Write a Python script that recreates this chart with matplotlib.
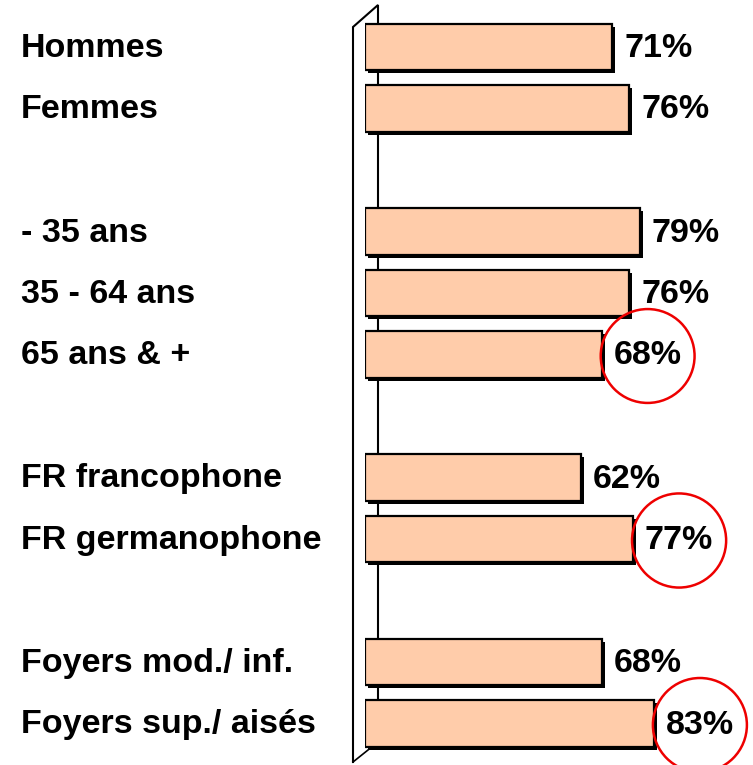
import matplotlib
matplotlib.use("Agg")
import matplotlib.pyplot as plt
import matplotlib.transforms as mtransforms

# data
labels = ["Hommes", "Femmes", "- 35 ans", "35 - 64 ans", "65 ans & +",
          "FR francophone", "FR germanophone", "Foyers mod./ inf.", "Foyers sup./ aisés"]
values = [71, 76, 79, 76, 68, 62, 77, 68, 83]
positions = [0, 1, 3, 4, 5, 7, 8, 10, 11]
circled = [False, False, False, False, True, False, True, False, True]

W, H = 753, 765
fig = plt.figure(figsize=(W / 100, H / 100), dpi=100)

# pixel overlay for the 3D wall
bg = fig.add_axes([0, 0, 1, 1], zorder=0)
bg.set_xlim(0, W)
bg.set_ylim(H, 0)
bg.axis("off")
bg.plot([353, 353, 378, 378], [762, 27, 5, 747], color="black", lw=1.5,
        solid_joinstyle="miter")
bg.plot([353, 378], [762, 742], color="black", lw=1.2)

# main axes: x = percent, y = category slot
x0, step, y_first = 365, 3.48, 47
slot = 61.5
top = y_first - slot / 2
bottom = y_first + 11 * slot + slot / 2
ax = fig.add_axes([x0 / W, (H - bottom) / H, 110 * step / W, (bottom - top) / H], zorder=1)
ax.set_xlim(0, 110)
ax.set_ylim(11.5, -0.5)
ax.axis("off")
ax.patch.set_alpha(0)

bar_h = 0.76
shadow = mtransforms.offset_copy(ax.transData, fig=fig, x=3, y=-3, units="dots")
ax.barh(positions, values, height=bar_h, color="black", transform=shadow, zorder=2)
ax.barh(positions, values, height=bar_h, color="#FFCCAA", edgecolor="black",
        linewidth=1.6, zorder=3)

font = "Liberation Sans"
base = 10 / slot  # baseline sits a little below the bar centre
for p, v, lab, c in zip(positions, values, labels, circled):
    ax.text(-344 / step, p + base, lab, ha="left", va="baseline", fontsize=24.5,
            fontweight="bold", family=font)
    box = None
    if c:
        box = dict(boxstyle="circle,pad=0.38", facecolor="none", edgecolor="#EE0000", lw=1.8)
    ax.annotate(f"{v}%", xy=(v, p + base), xytext=(12, 0), textcoords="offset pixels",
                ha="left", va="baseline", fontsize=24.5, fontweight="bold",
                family=font, bbox=box, zorder=4)

fig.savefig("out.png", dpi=100)
